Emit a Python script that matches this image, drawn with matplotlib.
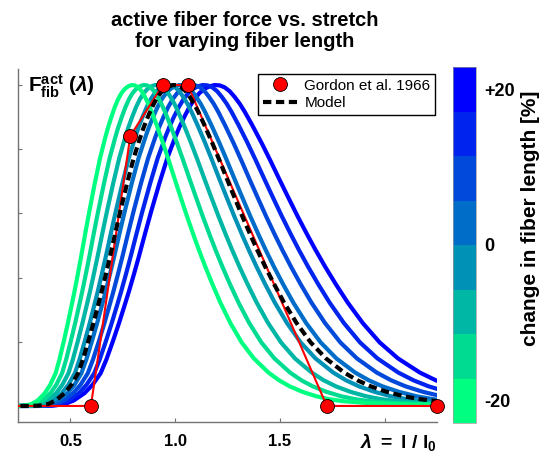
import numpy as np
import matplotlib
matplotlib.use("Agg")
import matplotlib.pyplot as plt
from matplotlib.colors import ListedColormap, BoundaryNorm
from matplotlib.cm import ScalarMappable
from matplotlib.lines import Line2D

plt.rcParams['font.family'] = ['Liberation Sans', 'DejaVu Sans']
plt.rcParams['mathtext.fontset'] = 'custom'
plt.rcParams['mathtext.rm'] = 'Liberation Sans'
plt.rcParams['mathtext.bf'] = 'Liberation Sans:bold'
plt.rcParams['mathtext.it'] = 'Liberation Sans:italic'
plt.rcParams['mathtext.bfit'] = 'Liberation Sans:bold:italic'

# ---- data ----
# model curve (0 % change): stretch vs. normalised active force
model_lambda = [0.20, 0.25, 0.30, 0.35, 0.394, 0.43, 0.473, 0.505, 0.537, 0.56,
                0.585, 0.61, 0.633, 0.65, 0.67, 0.69, 0.714, 0.738, 0.77, 0.802,
                0.834, 0.85, 0.87, 0.89, 0.91, 0.93, 0.95, 0.97, 0.99, 1.01,
                1.03, 1.05, 1.07, 1.09, 1.11, 1.14, 1.177, 1.21, 1.25, 1.28,
                1.32, 1.36, 1.392, 1.43, 1.472, 1.52, 1.58, 1.647, 1.72, 1.807,
                1.87, 1.934, 2.01, 2.093, 2.17, 2.25, 2.40, 2.60, 2.85]
model_force = [0.0, 0.0, 0.0, 0.001, 0.006, 0.017, 0.040, 0.066, 0.102, 0.145,
               0.200, 0.258, 0.315, 0.358, 0.412, 0.468, 0.538, 0.606, 0.692, 0.772,
               0.838, 0.868, 0.901, 0.931, 0.956, 0.975, 0.988, 0.996, 1.0, 0.999,
               0.993, 0.981, 0.963, 0.942, 0.917, 0.875, 0.820, 0.768, 0.703, 0.655,
               0.592, 0.532, 0.486, 0.434, 0.380, 0.322, 0.258, 0.198, 0.148, 0.104,
               0.080, 0.061, 0.044, 0.030, 0.021, 0.015, 0.009, 0.005, 0.003]

# change in fiber length [%] of each coloured curve and its optimal stretch
length_change = [-20, -14.29, -8.57, -2.86, 2.86, 8.57, 14.29, 20]
optimal_stretch = [0.80, 0.857, 0.914, 0.971, 1.029, 1.086, 1.143, 1.20]

# Gordon et al. 1966 experimental points
gordon_lambda = [0.0, 0.598, 0.786, 0.941, 1.06, 1.724, 2.25]
gordon_force = [0.0, 0.0, 0.841, 1.0, 1.0, 0.0, 0.0]

x_ticks = [0.5, 1.0, 1.5, 2.0]
x_ticklabels = ['0.5', '1.0', '1.5', '']
y_ticks = [0.0, 0.2, 0.4, 0.6, 0.8, 1.0]
cbar_ticks = [-20, 0, 20]
cbar_ticklabels = ['-20', '0', '+20']

# colours: green (-20) -> blue (+20)
n = len(length_change)
colors = [(0.0, 1 - k / (n - 1), 0.5 + 0.5 * k / (n - 1)) for k in range(n)]

W, H = 541, 459
fig = plt.figure(figsize=(W / 100, H / 100), dpi=100)
ax = fig.add_axes([18 / W, 1 - 422 / H, (437 - 18) / W, (422 - 69) / H])

ml = np.array(model_lambda)
mf = np.array(model_force)
for i in range(n - 1, -1, -1):
    ax.plot(ml * optimal_stretch[i], mf, color=colors[i], lw=3.0,
            solid_capstyle='butt', solid_joinstyle='round', zorder=2)

ax.plot(gordon_lambda, gordon_force, color='red', lw=1.5, zorder=3)
ax.plot(ml, mf, color='black', lw=3.0, dashes=(2.0, 1.1), zorder=4)
ax.plot(gordon_lambda[1:], gordon_force[1:], ls='none', marker='o', ms=10,
        mfc='red', mec='black', mew=0.6, zorder=5, clip_on=False)

ax.set_xlim(0.25, 2.25)
ax.set_ylim(-0.05, 1.05)
ax.set_xticks(x_ticks)
ax.set_xticklabels(x_ticklabels, fontweight='bold', fontsize=12)
ax.set_yticks(y_ticks)
ax.set_yticklabels([])
ax.tick_params(direction='in', length=3, color='0.45', pad=9)
for s in ['top', 'right']:
    ax.spines[s].set_visible(False)
for s in ['left', 'bottom']:
    ax.spines[s].set_color('0.45')
    ax.spines[s].set_linewidth(1.0)

handles = [Line2D([], [], ls='none', marker='o', ms=10, mfc='red', mec='black', mew=0.6),
           Line2D([], [], color='black', lw=3.0, dashes=(2.0, 1.1))]
leg = ax.legend(handles, ['Gordon et al. 1966', 'Model'], loc='upper right',
                bbox_to_anchor=(435 / W, 1 - 74 / H), bbox_transform=fig.transFigure,
                fancybox=False, framealpha=1, edgecolor='black', fontsize=11,
                handlelength=2.2, handletextpad=0.5, borderpad=0.3, labelspacing=0.25,
                borderaxespad=0)
leg.get_frame().set_linewidth(1.0)

fig.text(28 / W, 1 - 86 / H, r'$\mathbf{F^{act}_{fib}}\ \mathbf{(}\mathbfit{\lambda}\mathbf{)}$',
         fontsize=15, ha='left', va='center')
fig.text(437 / W, 1 - 432 / H, r'$\mathbfit{\lambda}\ \mathbf{=\ l\ /\ l_0}$',
         fontsize=14, ha='right', va='top')

fig.text(245 / W, 1 - 31 / H, 'active fiber force vs. stretch\nfor varying fiber length',
         fontsize=14.5, fontweight='bold', ha='center', va='center', linespacing=1.15)

# colorbar
d = (length_change[-1] - length_change[0]) / (n - 1)
bounds = np.linspace(length_change[0] - d / 2, length_change[-1] + d / 2, n + 1)
cmap = ListedColormap(colors)
norm = BoundaryNorm(bounds, cmap.N)
cax = fig.add_axes([453 / W, 1 - 423 / H, 23 / W, 356 / H])
cb = fig.colorbar(ScalarMappable(norm=norm, cmap=cmap), cax=cax, ticks=cbar_ticks)
cb.set_ticklabels(cbar_ticklabels)
cb.outline.set_linewidth(0.5)
cb.outline.set_edgecolor('0.6')
cax.minorticks_off()
cax.tick_params(which='both', length=0, pad=6)
for t in cax.get_yticklabels():
    t.set_fontweight('bold')
    t.set_fontsize(13)
fig.text(530 / W, 1 - 218 / H, 'change in fiber length [%]', rotation=90,
         fontsize=15, fontweight='bold', ha='center', va='center')

fig.savefig('out.png', dpi=100)
